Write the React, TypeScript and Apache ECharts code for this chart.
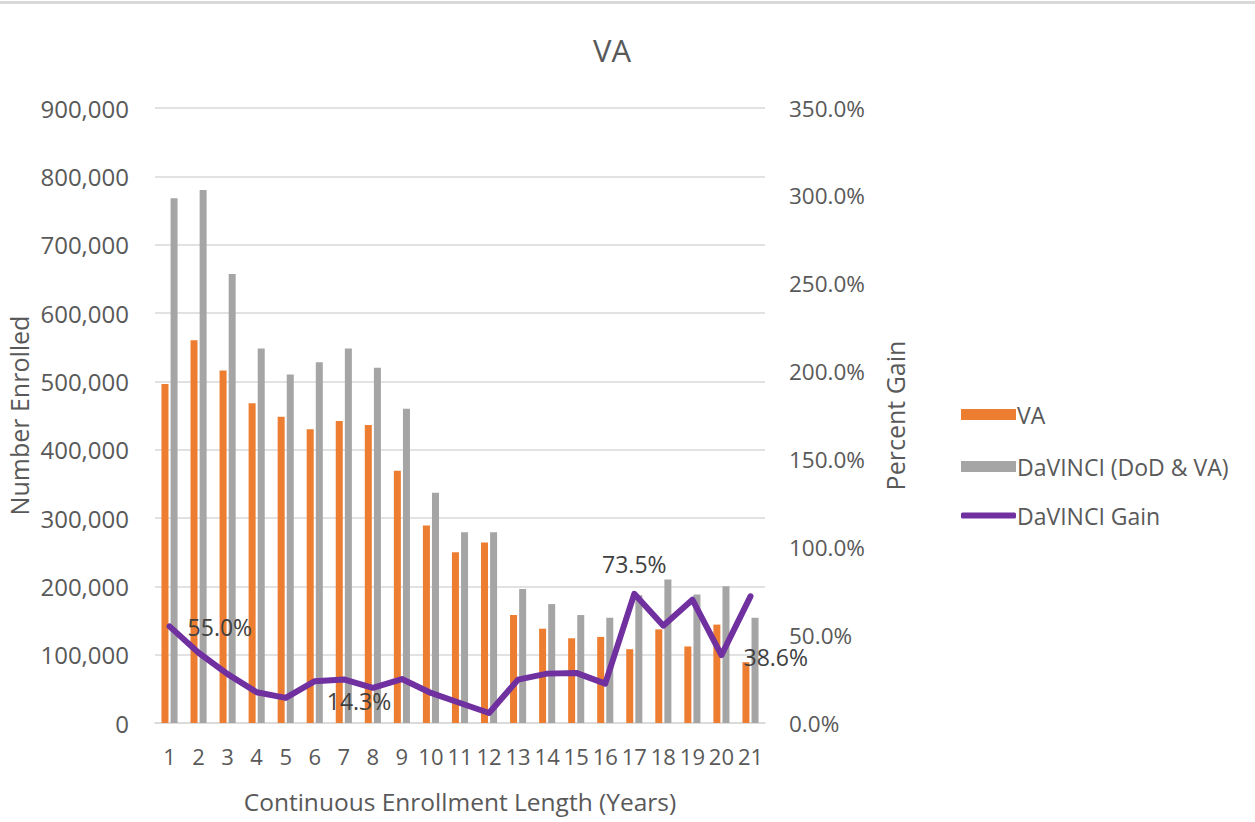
import React, { useEffect, useRef } from "react";
import * as echarts from "echarts";

const categories = ["1","2","3","4","5","6","7","8","9","10","11","12","13","14","15","16","17","18","19","20","21"];
const vaValues = [496000, 560000, 516000, 468000, 448000, 430000, 442000, 436000, 369000, 289000, 250000, 264000, 158000, 138000, 124000, 126000, 108000, 137000, 112000, 144000, 89000];
const davinciValues = [768000, 780000, 657000, 548000, 510000, 528000, 548000, 520000, 460000, 337000, 279000, 279000, 196000, 174000, 158000, 154000, 187000, 210000, 188000, 200000, 154000];
const gainValues = [55.0, 40.0, 27.8, 17.5, 14.3, 23.8, 24.8, 20.0, 25.0, 17.1, 11.4, 5.7, 24.7, 28.1, 28.5, 22.4, 73.5, 55.4, 70.2, 38.6, 72.1];
// which gain points carry a visible label, and where
const labelledPoints: Record<number, any> = {
  0: { position: "right", distance: 18, offset: [0, 1] },
  4: { position: "right", distance: 5, offset: [36, 3] },
  16: { position: "top", distance: 18, offset: [0, 0] },
  19: { position: "right", distance: 22, offset: [0, 2] },
};

const FONT = "'Open Sans', sans-serif";
const TXT = "#595959";

export default function App() {
  const ref = useRef<HTMLDivElement>(null);
  useEffect(() => {
    if (!ref.current) return;
    const chart = echarts.init(ref.current, undefined, { renderer: "svg" });
    const gainData = gainValues.map((v, i) => {
      const l = labelledPoints[i];
      if (!l) return v;
      return {
        value: v,
        label: {
          show: true,
          position: l.position,
          distance: l.distance,
          offset: l.offset,
          formatter: (p: any) => `${Number(p.value).toFixed(1)}%`,
          fontFamily: FONT,
          fontSize: 23,
          color: "#404040",
        },
      };
    });
    chart.setOption({
      animation: false,
      backgroundColor: "#fff",
      textStyle: { fontFamily: FONT },
      title: {
        text: "VA",
        left: 607,
        textAlign: "center",
        top: 29,
        textStyle: { fontFamily: FONT, fontSize: 31, fontWeight: "normal", color: TXT },
      },
      graphic: [
        { type: "rect", shape: { x: 0, y: 1, width: 1255, height: 3 }, style: { fill: "#D9D9D9" } },
      ],
      legend: [
        {
          orient: "vertical",
          left: 956,
          top: 398,
          itemWidth: 55,
          itemHeight: 11,
          itemGap: 29,
          textStyle: { fontFamily: FONT, fontSize: 23, color: TXT, padding: [0, 0, 0, -4] },
          data: [
            { name: "VA", icon: "rect" },
            { name: "DaVINCI (DoD & VA)", icon: "rect" },
          ],
        },
        {
          orient: "vertical",
          left: 956,
          top: 499,
          itemWidth: 55,
          itemHeight: 6,
          textStyle: { fontFamily: FONT, fontSize: 23, color: TXT, padding: [0, 0, 0, -4] },
          lineStyle: { width: 0, opacity: 0 },
          data: [{ name: "DaVINCI Gain", icon: "roundRect" }],
        },
      ],
      grid: { left: 155, right: 490, top: 108, bottom: 99 },
      xAxis: {
        type: "category",
        data: categories,
        name: "Continuous Enrollment Length (Years)",
        nameLocation: "middle",
        nameGap: 66,
        nameTextStyle: { fontFamily: FONT, fontSize: 24.5, color: TXT },
        axisLine: { lineStyle: { color: "#D9D9D9", width: 1.5 } },
        axisTick: { show: false },
        axisLabel: { interval: 0, fontFamily: FONT, fontSize: 22, color: TXT, margin: 22 },
      },
      yAxis: [
        {
          type: "value",
          min: 0,
          max: 900000,
          interval: 100000,
          name: "Number Enrolled",
          nameLocation: "middle",
          nameGap: 124,
          nameTextStyle: { fontFamily: FONT, fontSize: 25, color: TXT },
          axisLine: { show: false },
          axisTick: { show: false },
          splitLine: { lineStyle: { color: "#D9D9D9", width: 1.5 } },
          axisLabel: {
            fontFamily: FONT,
            fontSize: 24,
            color: TXT,
            margin: 26,
            formatter: (v: number) => v.toLocaleString("en-US"),
          },
        },
        {
          type: "value",
          min: 0,
          max: 350,
          interval: 50,
          name: "Percent Gain",
          nameLocation: "middle",
          nameGap: 117,
          nameRotate: 90,
          nameTextStyle: { fontFamily: FONT, fontSize: 25, color: TXT },
          axisLine: { show: false },
          axisTick: { show: false },
          splitLine: { show: false },
          axisLabel: {
            fontFamily: FONT,
            fontSize: 22.5,
            color: TXT,
            margin: 24,
            formatter: (v: number) => `${v.toFixed(1)}%`,
          },
        },
      ],
      series: [
        {
          name: "VA",
          type: "bar",
          data: vaValues,
          barWidth: 7,
          barGap: "30%",
          itemStyle: { color: "#ED7D31" },
        },
        {
          name: "DaVINCI (DoD & VA)",
          type: "bar",
          data: davinciValues,
          barWidth: 7,
          barGap: "30%",
          itemStyle: { color: "#A5A5A5" },
        },
        {
          name: "DaVINCI Gain",
          type: "line",
          yAxisIndex: 1,
          data: gainData,
          symbol: "circle",
          symbolSize: 0.1,
          showSymbol: true,
          lineStyle: { color: "#7030A0", width: 6, join: "round", cap: "round" },
          itemStyle: { color: "#7030A0" },
          z: 5,
        },
      ],
    });
    return () => chart.dispose();
  }, []);
  return (
    <div
      ref={ref}
      style={{ position: "absolute", left: 0, top: 0, width: 1255, height: 822 }}
    />
  );
}
